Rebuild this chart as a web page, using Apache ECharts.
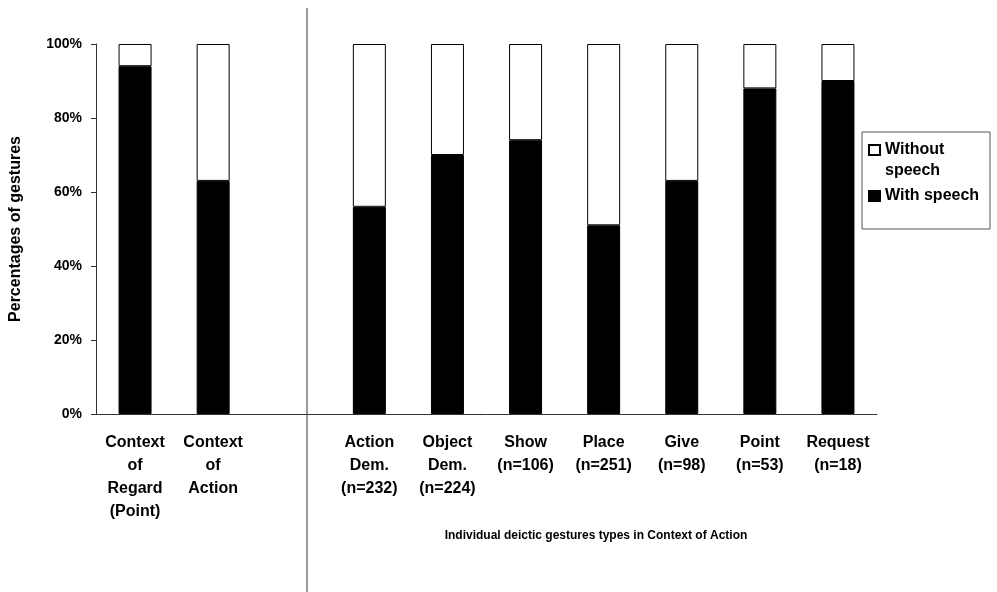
<!DOCTYPE html>
<html><head><meta charset="utf-8">
<script src="https://cdn.jsdelivr.net/npm/echarts@6/dist/echarts.min.js"></script>
<style>html,body{margin:0;padding:0;background:#fff}#c{width:997px;height:592px}</style>
</head><body><div id="c"></div>
<script>
const categories = ['Context\nof\nRegard\n(Point)', 'Context\nof\nAction', '', 'Action\nDem.\n(n=232)', 'Object\nDem.\n(n=224)', 'Show\n(n=106)', 'Place\n(n=251)', 'Give\n(n=98)', 'Point\n(n=53)', 'Request\n(n=18)'];
const withSpeech = [94, 63, null, 56, 70, 74, 51, 63, 88, 90];
const withoutSpeech = [6, 37, null, 44, 30, 26, 49, 37, 12, 10];
const yTicks = [0, 20, 40, 60, 80, 100];
const yTitle = 'Percentages of gestures';
const xTitle = 'Individual deictic gestures types in Context of Action';

const FONT = '"Liberation Sans", Arial, sans-serif';
const chart = echarts.init(document.getElementById('c'));
chart.setOption({
  animation: false,
  backgroundColor: '#fff',
  textStyle: { fontFamily: FONT },
  grid: { left: 95, right: 120, top: 44, bottom: 178 },
  legend: {
    left: 868, top: 118.5, orient: 'vertical', padding: 0, itemGap: 4,
    itemWidth: 11, itemHeight: 10, icon: 'rect',
    textStyle: { fontFamily: FONT, fontSize: 16, fontWeight: 'bold', color: '#000', lineHeight: 21 },
    data: ['Without speech', 'With speech'],
    formatter: n => n === 'Without speech' ? '\u00a0\nWithout\nspeech' : n
  },
  xAxis: {
    type: 'category', data: categories,
    axisLine: { lineStyle: { color: '#333', width: 1 } },
    axisTick: { length: 5, lineStyle: { color: '#333' } },
    axisLabel: { interval: 0, fontFamily: FONT, fontSize: 16, fontWeight: 'bold', color: '#000', lineHeight: 23, margin: 17 }
  },
  yAxis: {
    type: 'value', min: 0, max: 100, interval: 20,
    name: yTitle, nameLocation: 'middle', nameGap: 72, nameRotate: 90,
    nameTextStyle: { fontFamily: FONT, fontSize: 16, fontWeight: 'bold', color: '#000' },
    axisLine: { show: true, lineStyle: { color: '#333', width: 1 } },
    axisTick: { show: true, length: 5, lineStyle: { color: '#333' } },
    splitLine: { show: false },
    axisLabel: { fontFamily: FONT, fontSize: 14, fontWeight: 'bold', color: '#000', margin: 14,
      formatter: v => yTicks.includes(v) ? v + '%' : '' }
  },
  series: [
    { name: 'With speech', type: 'bar', stack: 's', data: withSpeech, barWidth: 33,
      itemStyle: { color: '#000', borderColor: '#000', borderWidth: 1 } },
    { name: 'Without speech', type: 'bar', stack: 's', data: withoutSpeech, barWidth: 33,
      itemStyle: { color: '#fff', borderColor: '#000', borderWidth: 1 } }
  ],
  graphic: [
    { type: 'line', shape: { x1: 307, y1: 8, x2: 307, y2: 592 }, style: { stroke: '#333', lineWidth: 1 } },
    { type: 'rect', shape: { x: 862, y: 132, width: 128, height: 97 }, style: { fill: 'none', stroke: '#555', lineWidth: 1 } },
    { type: 'text', x: 596, y: 536, style: { text: xTitle, fontFamily: FONT, fontSize: 12, fontWeight: 'bold', fill: '#000', align: 'center', verticalAlign: 'middle' } }
  ]
});
</script></body></html>
